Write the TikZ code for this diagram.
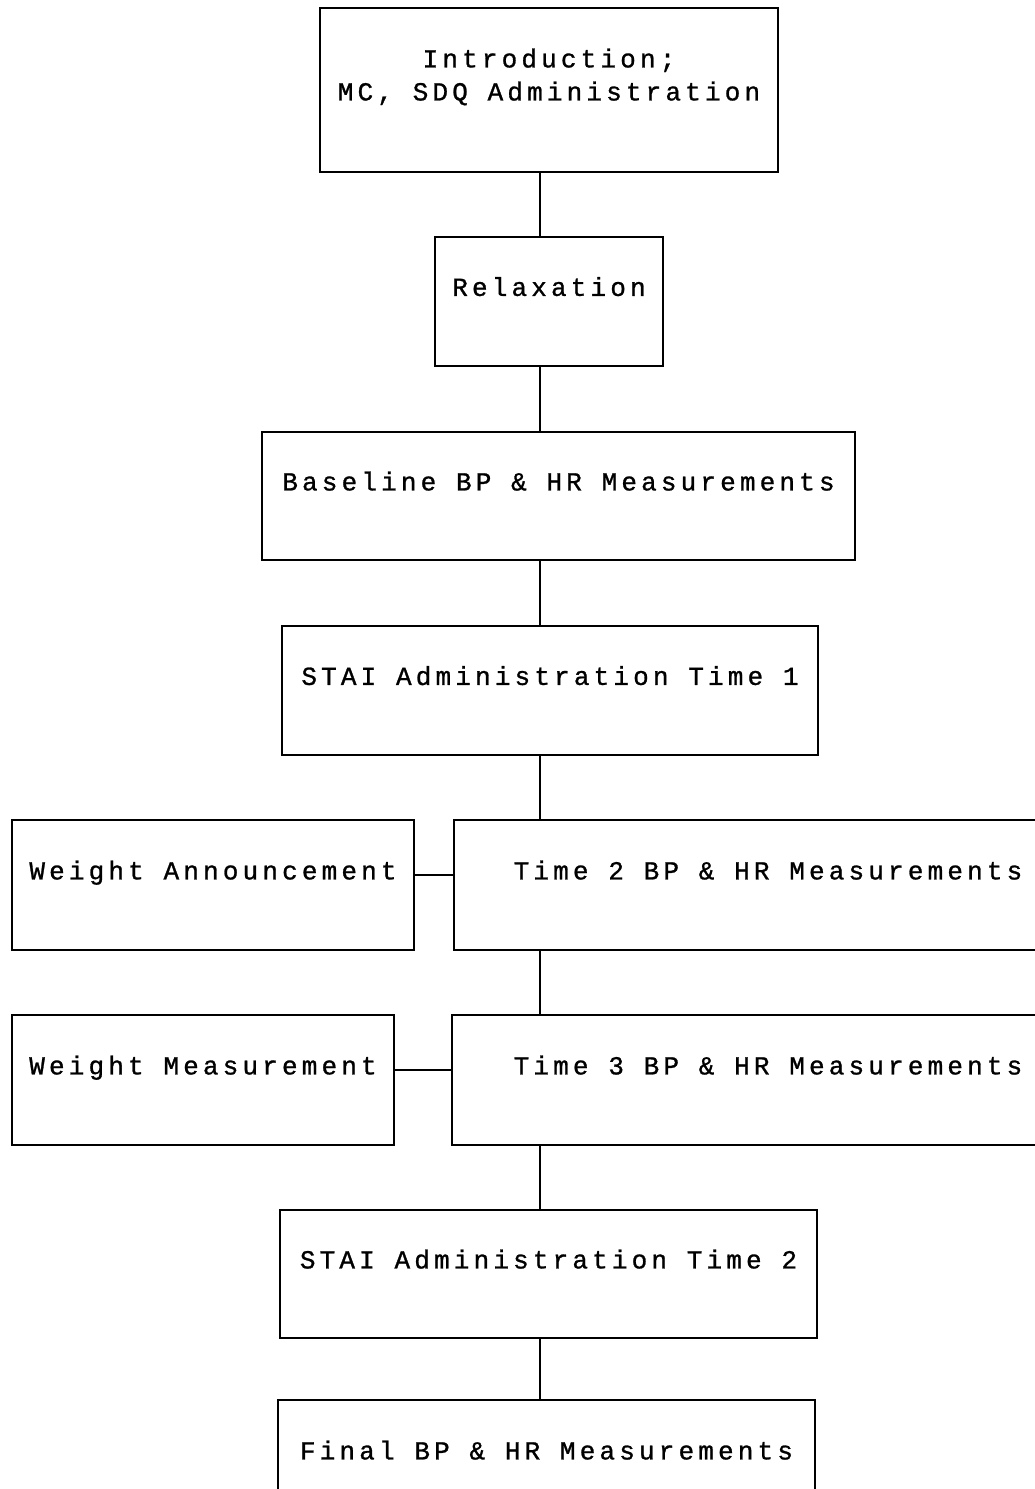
\documentclass[tikz,border=0pt]{standalone}
\usepackage{fontspec}
\newfontfamily\dotfont[LetterSpace=16,FakeBold=1]{Liberation Mono}
\begin{document}
\begin{tikzpicture}[x=0.5pt,y=-0.5pt,
  every node/.style={font=\dotfont\fontsize{13pt}{16.5pt}\selectfont},
  flowbox/.style={draw, line width=0.7pt, inner sep=0pt, text height=9pt, text depth=14.6pt},
  link/.style={line width=0.7pt}]
  \useasboundingbox (0,0) rectangle (1034,1489);
  % Spine of the flow
  \coordinate (spine) at (540,0);
  % Main steps
  \node[flowbox, minimum width=229pt, minimum height=82pt, text height=0pt, text depth=22.6pt] (intro) at (549,90)
    {\begin{tabular}[t]{@{}c@{}}Introduction;\\MC, SDQ Administration\end{tabular}};
  \node[flowbox, minimum width=114pt, minimum height=64.5pt] (relax) at (549,301.5) {Relaxation};
  \node[flowbox, minimum width=296.5pt, minimum height=64pt] (base) at (558.5,496) {Baseline BP \& HR Measurements};
  \node[flowbox, minimum width=268pt, minimum height=64.5pt] (stai1) at (550,690.5) {STAI Administration Time 1};
  \node[flowbox, minimum width=314pt, minimum height=65pt] (time2) at (768,885) {Time 2 BP \& HR Measurements};
  \node[flowbox, minimum width=316pt, minimum height=65pt] (time3) at (768,1080) {Time 3 BP \& HR Measurements};
  \node[flowbox, minimum width=268.5pt, minimum height=64pt] (stai2) at (548.5,1274) {STAI Administration Time 2};
  \node[flowbox, minimum width=268.5pt, minimum height=65pt] (final) at (546.5,1465) {Final BP \& HR Measurements};
  % Side steps
  \node[flowbox, minimum width=201pt, minimum height=65pt] (wann) at (213,885) {Weight Announcement};
  \node[flowbox, minimum width=191pt, minimum height=65pt] (wmeas) at (203,1080) {Weight Measurement};
  % Links down the spine
  \draw[link] (intro.south -| spine) -- (relax.north -| spine);
  \draw[link] (relax.south -| spine) -- (base.north -| spine);
  \draw[link] (base.south -| spine) -- (stai1.north -| spine);
  \draw[link] (stai1.south -| spine) -- (time2.north -| spine);
  \draw[link] (time2.south -| spine) -- (time3.north -| spine);
  \draw[link] (time3.south -| spine) -- (stai2.north -| spine);
  \draw[link] (stai2.south -| spine) -- (final.north -| spine);
  % Side links
  \draw[link] (wann.mid east) -- (time2.mid west);
  \draw[link] (wmeas.mid east) -- (time3.mid west);
\end{tikzpicture}
\end{document}
